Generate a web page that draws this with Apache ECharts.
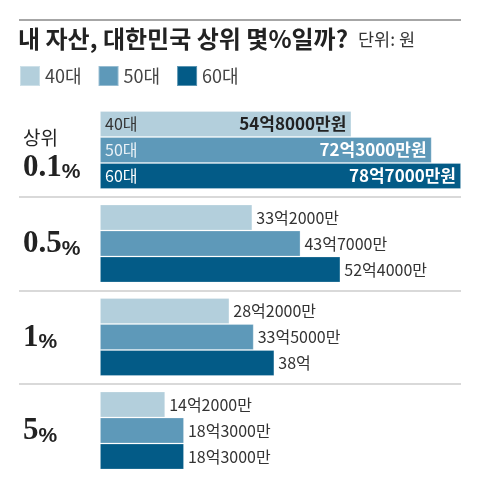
<!DOCTYPE html>
<html>
<head>
<meta charset="utf-8">
<script src="https://cdn.jsdelivr.net/npm/echarts@6/dist/echarts.min.js"></script>
<style>html,body{margin:0;padding:0;background:#fff}#c{width:480px;height:490px}</style>
</head>
<body>
<div id="c"></div>
<script>
const titleText = '내 자산, 대한민국 상위 몇%일까?';
const unitText = '단위: 원';
const topPrefix = '상위';
const categories = ['0.1%', '0.5%', '1%', '5%'];
const seriesNames = ['40대', '50대', '60대'];
const values40 = [54.8, 33.2, 28.2, 14.2];
const values50 = [72.3, 43.7, 33.5, 18.3];
const values60 = [78.7, 52.4, 38, 18.3];

const seriesValues = [values40, values50, values60];
const colors = ['#b3cfdc', '#5e99b9', '#035b87'];
const insideNameColors = ['#333333', '#eaf2f7', '#ffffff'];
const insideValueColors = ['#222222', '#ffffff', '#ffffff'];
const FONT = "'Noto Sans CJK KR', 'Noto Sans', sans-serif";

function fmt(v, withWon) {
  const eok = Math.floor(v + 1e-9);
  const man = Math.round((v - eok) * 10000);
  return eok + '억' + (man ? man + '만' : '') + (withWon ? '원' : '');
}

const series = [];
seriesNames.forEach((name, i) => {
  // zero-width helper bar carrying the in-bar series name for the top group
  series.push({
    name: '_' + name,
    type: 'bar',
    stack: 's' + i,
    barWidth: 26,
    barGap: '0%',
    z: 4,
    silent: true,
    itemStyle: { color: 'rgba(0,0,0,0)' },
    data: seriesValues[i].map((v, j) => ({
      value: 0,
      label: {
        show: j === 0,
        position: 'right',
        distance: 5,
        formatter: name,
        fontFamily: FONT,
        fontSize: 16,
        color: insideNameColors[i]
      }
    }))
  });
  series.push({
    name: name,
    type: 'bar',
    stack: 's' + i,
    barWidth: 26,
    barGap: '0%',
    z: 2,
    itemStyle: { color: colors[i], borderColor: 'rgba(255,255,255,0.35)', borderWidth: 0.8 },
    data: seriesValues[i].map((v, j) => ({
      value: v,
      label: j === 0 ? {
        show: true,
        position: 'insideRight',
        distance: 5,
        fontFamily: FONT,
        fontSize: 17,
        fontWeight: 'bold',
        color: insideValueColors[i],
        formatter: p => fmt(p.value, true)
      } : {
        show: true,
        position: 'right',
        distance: 4,
        fontFamily: FONT,
        fontSize: 16,
        color: '#333',
        formatter: p => fmt(p.value, false)
      }
    }))
  });
});

const chart = echarts.init(document.getElementById('c'), null, { renderer: 'canvas' });
chart.setOption({
  animation: false,
  color: colors,
  title: {
    left: 18,
    top: 27,
    padding: 0,
    text: '{a|' + titleText + '}  {b|' + unitText + '}',
    textStyle: {
      fontWeight: 'normal',
      rich: {
        a: { fontFamily: FONT, fontSize: 24, fontWeight: 'bold', color: '#222' },
        b: { fontFamily: FONT, fontSize: 17.5, fontWeight: 'normal', color: '#333' }
      }
    }
  },
  legend: {
    left: 19,
    top: 65,
    padding: 0,
    itemWidth: 20,
    itemHeight: 20,
    itemGap: 16,
    icon: 'rect',
    data: seriesNames,
    textStyle: { fontFamily: FONT, fontSize: 18, color: '#444' }
  },
  graphic: [{
    type: 'line',
    shape: { x1: 19, y1: 20, x2: 461, y2: 20 },
    style: { stroke: '#888', lineWidth: 1.5 }
  }],
  grid: { left: 19, right: 19, top: 103.25, bottom: 12.75 },
  xAxis: {
    type: 'value',
    min: -17.66,
    max: 78.7,
    show: false,
    splitLine: { show: false }
  },
  yAxis: {
    type: 'category',
    inverse: true,
    data: categories,
    axisLine: { show: false },
    axisTick: { show: false },
    splitLine: {
      show: true,
      lineStyle: { color: ['rgba(0,0,0,0)', '#cccccc', '#cccccc', '#cccccc', 'rgba(0,0,0,0)'], width: 1.5 }
    },
    axisLabel: {
      align: 'left',
      margin: -4,
      formatter: (v, idx) => {
        const num = v.replace('%', '');
        const main = '{n|' + num + '}{p|%}';
        return idx === 0 ? '{e| }\n{s|' + topPrefix + '}\n' + main : main;
      },
      rich: {
        e: { fontSize: 6, lineHeight: 8 },
        s: { fontFamily: FONT, fontSize: 19, color: '#222', lineHeight: 26, align: 'left' },
        n: { fontFamily: "'Liberation Serif', 'DejaVu Serif', serif", fontSize: 31, fontWeight: 'bold', color: '#222', lineHeight: 32, verticalAlign: 'bottom' },
        p: { fontFamily: "'Liberation Sans', 'DejaVu Sans', sans-serif", fontSize: 21, fontWeight: 'bold', color: '#222', lineHeight: 26, verticalAlign: 'bottom' }
      }
    }
  },
  series: series
});
</script>
</body>
</html>
